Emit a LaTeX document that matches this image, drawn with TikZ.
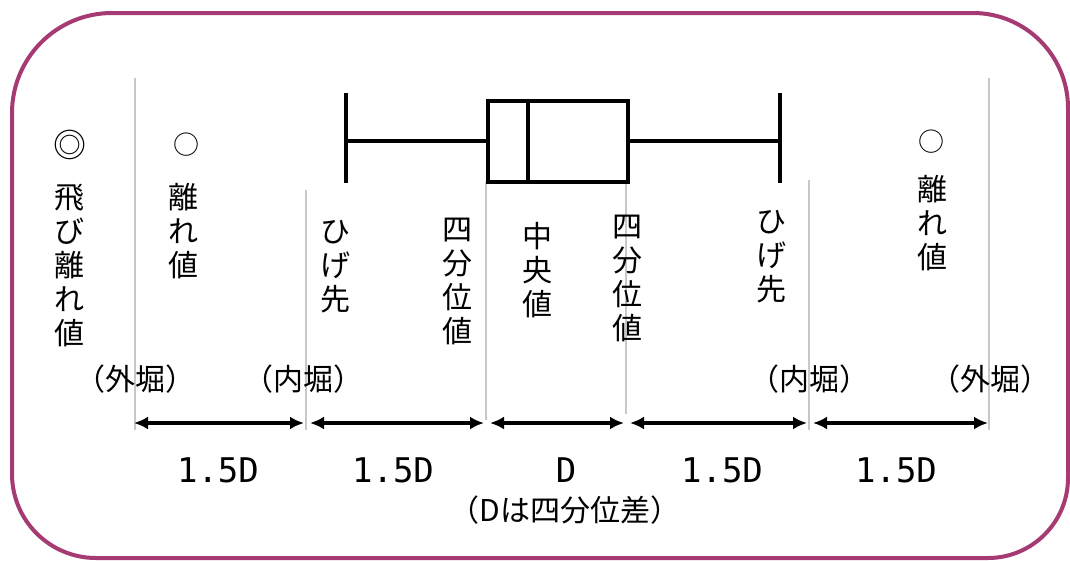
\documentclass[tikz,border=0pt]{standalone}
\usepackage{fontspec}
\setmainfont{Noto Sans CJK JP}
\newfontfamily\numfont{DejaVu Sans Mono}
\usetikzlibrary{arrows.meta}
\definecolor{framec}{RGB}{166,58,115}
\definecolor{guidec}{RGB}{200,200,200}
\begin{document}
\begin{tikzpicture}[x=1pt,y=-1pt,
  frame/.style={draw=framec,line width=4pt},
  guide/.style={draw=guidec,line width=1.5pt},
  thickln/.style={draw=black,line width=4pt},
  dimarrow/.style={draw=black,line width=4pt,arrows={Latex[length=14pt,width=13pt]-Latex[length=14pt,width=13pt]},shorten <=4pt,shorten >=2pt},
  shaft/.style={draw=black,line width=4.5pt,shorten <=12pt,shorten >=10pt},
  vtext/.style={align=center,inner sep=0pt,font=\fontsize{30}{34}\selectfont},
  htext/.style={inner sep=0pt,font=\fontsize{30}{34}\selectfont},
  numtext/.style={inner sep=0pt,font=\numfont\fontsize{34}{38}\selectfont},
  symb/.style={inner sep=0pt}
]
\useasboundingbox (0,0) rectangle (1070,560);
\fill[white] (0,0) rectangle (1070,560);

% frame
\draw[frame] (12,300) [rounded corners=100pt] |- (540,13) [rounded corners=95pt] -| (1068,300) [rounded corners=80pt] |- (540,558) [rounded corners=84pt] -| (12,300) -- cycle;

% guide lines
\coordinate (g1t) at (135,78);  \coordinate (g1b) at (135,430);
\coordinate (g2t) at (306,190); \coordinate (g2b) at (306,430);
\coordinate (g3t) at (486,182); \coordinate (g3b) at (486,420);
\coordinate (g4t) at (626,182); \coordinate (g4b) at (626,414);
\coordinate (g5t) at (809,180); \coordinate (g5b) at (809,430);
\coordinate (g6t) at (989,78);  \coordinate (g6b) at (989,430);
\foreach \i in {1,...,6} {\draw[guide] (g\i t) -- (g\i b);}

% box plot
\node[draw=black,line width=4pt,minimum width=140pt,minimum height=81pt,inner sep=0pt] (box) at (558,141) {};
\coordinate (medT) at (528,100.5);
\coordinate (medB) at (528,181.5);
\draw[thickln] (medT) -- (medB);
\coordinate (wlT) at (346,93); \coordinate (wlB) at (346,183); \coordinate (wl) at (346,141);
\coordinate (wrT) at (780,93); \coordinate (wrB) at (780,183); \coordinate (wr) at (780,141);
\draw[thickln] (wlT) -- (wlB);
\draw[thickln] (wrT) -- (wrB);
\draw[thickln] (box.west) -- (wl);
\draw[thickln] (box.east) -- (wr);

% arrows
\coordinate (a1) at (134,423);
\coordinate (a2) at (306,423);
\coordinate (a3) at (486,423);
\coordinate (a4) at (626,423);
\coordinate (a5) at (809,423);
\coordinate (a6) at (989,423);
\draw[dimarrow,shorten <=0pt] (a1) -- (a2);
\draw[dimarrow] (a2) -- (a3);
\draw[dimarrow] (a3) -- (a4);
\draw[dimarrow] (a4) -- (a5);
\draw[dimarrow,shorten >=1pt] (a5) -- (a6);
\draw[shaft,shorten <=8pt] (a1) -- (a2);
\draw[shaft] (a2) -- (a3);
\draw[shaft] (a3) -- (a4);
\draw[shaft] (a4) -- (a5);
\draw[shaft,shorten >=9pt] (a5) -- (a6);

% symbols
\node[symb,font=\fontsize{33}{33}\selectfont] (dbl) at (70,145) {◎};
\node[symb,font=\fontsize{26}{26}\selectfont] (oL) at (186,145) {○};
\node[symb,font=\fontsize{26}{26}\selectfont] (oR) at (931,142) {○};

% vertical labels
\node[vtext] (tobi) at (69,265) {飛\\び\\離\\れ\\値};
\node[vtext] (hanL) at (183,231) {離\\れ\\値};
\node[vtext] (higL) at (335,267) {ひ\\げ\\先};
\node[vtext] (q1) at (457,281) {四\\分\\位\\値};
\node[vtext] (med) at (537,270) {中\\央\\値};
\node[vtext] (q3) at (627,278) {四\\分\\位\\値};
\node[vtext] (higR) at (771,257) {ひ\\げ\\先};
\node[vtext] (hanR) at (932,223) {離\\れ\\値};

% fence labels
\node[htext] (gaiL) at (135,379) {（外堀）};
\node[htext] (naiL) at (303,379) {（内堀）};
\node[htext] (naiR) at (809,379) {（内堀）};
\node[htext] (gaiR) at (990,379) {（外堀）};

% distance labels
\node[numtext] (d1) at (218,470) {1.5D};
\node[numtext] (d2) at (393,470) {1.5D};
\node[numtext] (d3) at (566,470) {D};
\node[numtext] (d4) at (722,470) {1.5D};
\node[numtext] (d5) at (896,470) {1.5D};
\node[htext] (note) at (565,510) {（Dは四分位差）};
\end{tikzpicture}
\end{document}
